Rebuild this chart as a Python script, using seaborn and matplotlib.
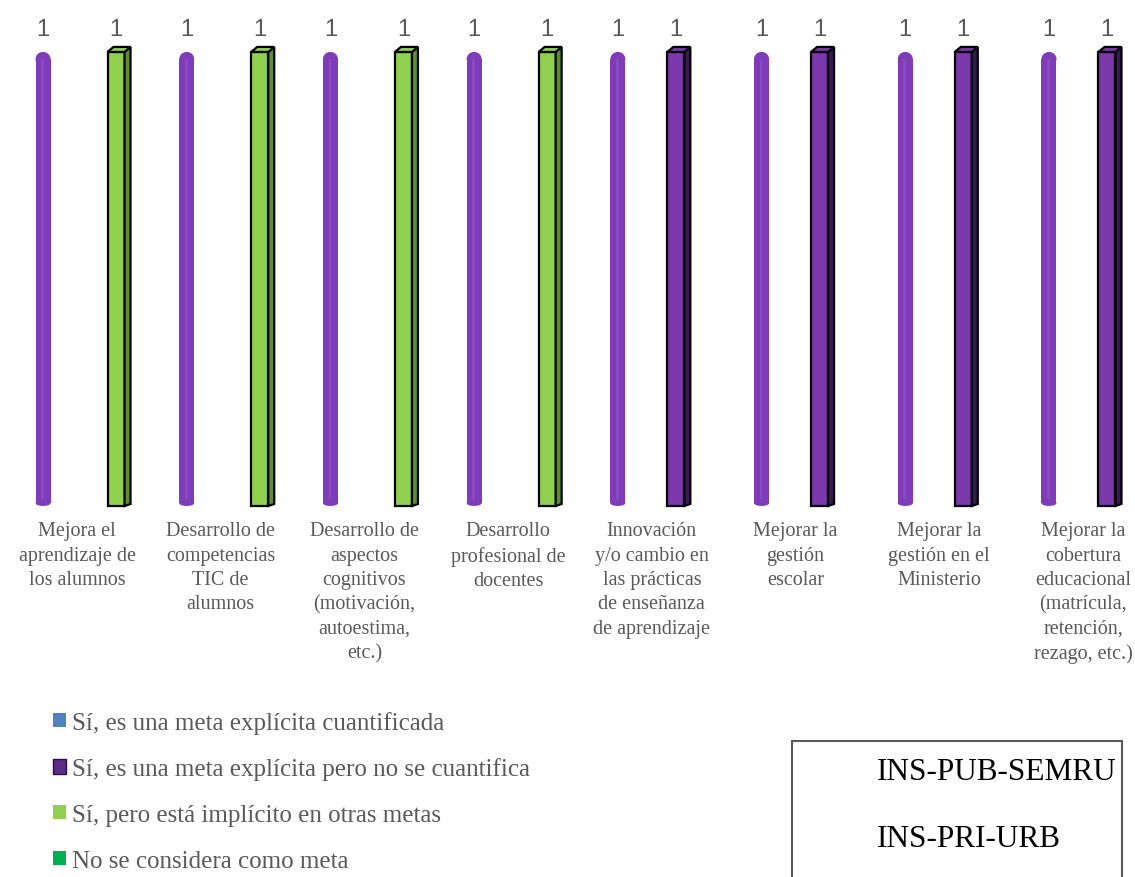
import pandas as pd
import matplotlib.pyplot as plt
import seaborn as sns
from matplotlib.patches import Polygon, Ellipse, Rectangle, Patch

sns.set_style('white')

# Datos
metas = [
    'Mejora el\naprendizaje de\nlos alumnos',
    'Desarrollo de\ncompetencias\nTIC de\nalumnos',
    'Desarrollo de\naspectos\ncognitivos\n(motivación,\nautoestima,\netc.)',
    'Desarrollo\nprofesional de\ndocentes',
    'Innovación\ny/o cambio en\nlas prácticas\nde enseñanza\nde aprendizaje',
    'Mejorar la\ngestión\nescolar',
    'Mejorar la\ngestión en el\nMinisterio',
    'Mejorar la\ncobertura\neducacional\n(matrícula,\nretención,\nrezago, etc.)',
]
grupos = ['INS-PUB-SEMRU', 'INS-PRI-URB']
valores_pub = [1, 1, 1, 1, 1, 1, 1, 1]
valores_pri = [1, 1, 1, 1, 1, 1, 1, 1]
respuestas = [
    'Sí, es una meta explícita cuantificada',
    'Sí, es una meta explícita pero no se cuantifica',
    'Sí, pero está implícito en otras metas',
    'No se considera como meta',
]
resp_pri = [respuestas[2]] * 4 + [respuestas[1]] * 4

# Colores
color_resp = {
    respuestas[0]: '#4F81BD',
    respuestas[1]: '#7A38AA',
    respuestas[2]: '#92D050',
    respuestas[3]: '#00B050',
}
color_lado = {respuestas[1]: '#3A1A55', respuestas[2]: '#5E8F2E'}
color_cil = '#7E3CB8'
gris = '#595959'

df = pd.DataFrame({
    'meta': metas * 2,
    'grupo': [grupos[0]] * 8 + [grupos[1]] * 8,
    'valor': valores_pub + valores_pri,
})

fig = plt.figure(figsize=(11.35, 8.78), dpi=100)
ax = fig.add_axes([0, 0.4226, 1, 0.5171])

sns.barplot(data=df, x='meta', y='valor', hue='grupo', hue_order=grupos,
            dodge=True, palette=[color_cil, '#7030A0'], saturation=1,
            legend=False, ax=ax)

ax.set_xlim(-0.536, 7.362)
ax.set_ylim(0, 1)

# geometry helpers (px -> data)
px_x = 1 / 143.7
px_y = 1 / 454
w_cil = 15 * px_x
w_box = 17 * px_x
dx, dy = 6 * px_x, 5 * px_y
off_cil = -34 * px_x
off_box = {respuestas[2]: 39 * px_x, respuestas[1]: 24 * px_x}

# cylinders
r = 7 * px_y
for i, p in enumerate(ax.containers[0]):
    xc = i + off_cil
    p.set_x(xc - w_cil / 2)
    p.set_width(w_cil)
ax.bar_label(ax.containers[0], labels=['1'] * 8, padding=8.6, fontsize=17,
             color=gris, family='Liberation Sans')
for i, p in enumerate(ax.containers[0]):
    h = p.get_height()
    xc = i + off_cil
    p.set_y(r * 0.4)
    p.set_height(h - r - r * 0.4)
    p.set_edgecolor('none')
    ax.add_patch(Ellipse((xc, h - r), w_cil, 2 * r, color=color_cil, lw=0))
    ax.add_patch(Ellipse((xc, r * 0.4), w_cil, 0.8 * r, color=color_cil, lw=0))
    ax.add_patch(Rectangle((xc - w_cil * 0.12, r), w_cil * 0.18, h - 2 * r,
                           color='#8A4AC4', lw=0))

# 3D boxes
for i, p in enumerate(ax.containers[1]):
    h = p.get_height()
    resp = resp_pri[i]
    x0 = i + off_box[resp] - w_box / 2
    p.set_x(x0)
    p.set_width(w_box)
    p.set_facecolor(color_resp[resp])
    p.set_edgecolor('black')
    p.set_linewidth(1.6)
    p.set_clip_on(False)
    x1 = x0 + w_box
    ax.add_patch(Polygon([(x1, 0), (x1 + dx, dy * 0.4), (x1 + dx, h + dy), (x1, h)],
                         closed=True, facecolor=color_lado[resp],
                         edgecolor='black', lw=1.6, clip_on=False))
    ax.add_patch(Polygon([(x0, h), (x0 + dx, h + dy), (x1 + dx, h + dy), (x1, h)],
                         closed=True, facecolor=color_resp[resp],
                         edgecolor='black', lw=1.6, clip_on=False))
ax.bar_label(ax.containers[1], labels=['1'] * 8, padding=8.6, fontsize=17,
             color=gris, family='Liberation Sans')

ax.set_xticks(range(len(metas)))
ax.set_xticklabels(metas, fontsize=14.5, color=gris, family='Liberation Serif',
                   linespacing=1.38)
ax.tick_params(axis='x', length=0, pad=11)
ax.set_yticks([])
ax.set_xlabel('')
ax.set_ylabel('')
sns.despine(ax=ax, left=True, bottom=True)

# legend
handles = [Patch(facecolor=color_resp[r_], edgecolor='none') for r_ in respuestas]
handles[1] = Patch(facecolor='#5B2C84', edgecolor='#2A1040')
fig.legend(handles, respuestas, loc='upper left', bbox_to_anchor=(0.027, 0.215),
           frameon=False, labelcolor=gris,
           prop={'family': 'Liberation Serif', 'size': 18},
           handlelength=0.5, handleheight=0.5, handletextpad=0.25,
           labelspacing=0.95)

# group box
fig.add_artist(Rectangle((792 / 1135, -0.05), 330 / 1135, 1 - 742 / 878 + 0.05,
                         transform=fig.transFigure, facecolor='none',
                         edgecolor=gris, lw=1.5, clip_on=False))
fig.text(877 / 1135, 1 - 773 / 878, grupos[0], fontsize=22.5, va='center',
         family='Liberation Serif', color='black')
fig.text(877 / 1135, 1 - 840 / 878, grupos[1], fontsize=22.5, va='center',
         family='Liberation Serif', color='black')

plt.savefig('out.png', dpi=100)
